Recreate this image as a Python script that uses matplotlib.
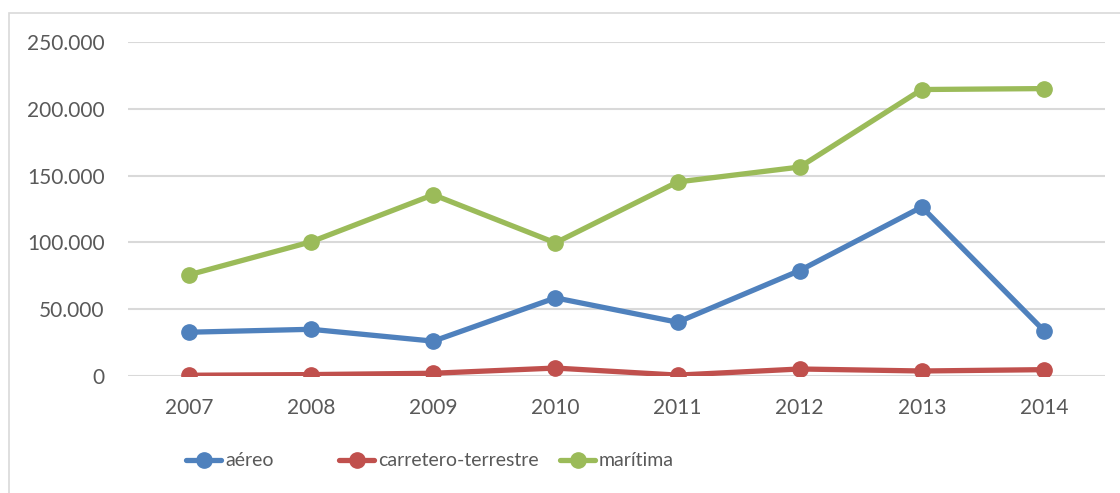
import matplotlib.pyplot as plt
from matplotlib.patches import Rectangle
from matplotlib.lines import Line2D
from matplotlib.ticker import FuncFormatter

# Years and values
years = ['2007', '2008', '2009', '2010', '2011', '2012', '2013', '2014']
aereo = [32500, 34700, 25800, 58300, 40000, 78800, 126500, 33700]
carretero = [200, 700, 1700, 5600, 300, 4900, 3400, 4400]
maritima = [75600, 100400, 135700, 99600, 145300, 156500, 214700, 215400]

series_names = ['aéreo', 'carretero-terrestre', 'marítima']
colors = ['#4F81BD', '#C0504D', '#9BBB59']

plt.rcParams['font.family'] = ['Lato', 'DejaVu Sans']
text_color = '#595959'

fig = plt.figure(figsize=(11.2, 4.93), dpi=100)
ax = fig.add_axes([0.1143, 0.2383, 0.8723, 0.6755])

x = list(range(len(years)))
for vals, c in zip([aereo, carretero, maritima], colors):
    ax.plot(x, vals, color=c, linewidth=3.8, marker='o', markersize=11,
            solid_capstyle='round', zorder=3)

ax.set_xlim(-0.5, len(years) - 0.5)
ax.set_ylim(0, 250000)
ax.set_yticks(range(0, 250001, 50000))
ax.yaxis.set_major_formatter(FuncFormatter(lambda v, p: f'{int(v):,}'.replace(',', '.')))
ax.set_xticks(x)
ax.set_xticklabels(years)

ax.grid(axis='y', color='#D9D9D9', linewidth=1.5, zorder=0)
for s in ax.spines.values():
    s.set_visible(False)
ax.tick_params(axis='both', length=0, labelsize=15, labelcolor=text_color)
ax.tick_params(axis='y', pad=17)
ax.tick_params(axis='x', pad=16)

# outer chart border (only left/top visible in the crop)
fig.patches.append(Rectangle((9 / 1120, -0.2), 1.5, 1.2 - 13 / 493,
                             transform=fig.transFigure, fill=False,
                             edgecolor='#D9D9D9', linewidth=1.2))

# legend entries placed like the original
leg_x = [186, 339, 560]
for name, c, lx in zip(series_names, colors, leg_x):
    h = Line2D([0], [0], color=c, linewidth=3.8, marker='o', markersize=11,
               solid_capstyle='round')
    leg = fig.legend([h], [name], loc='center left',
                     bbox_to_anchor=(lx / 1120, 1 - 461 / 493),
                     frameon=False, fontsize=14, handlelength=1.8,
                     handletextpad=0.2, borderaxespad=0, borderpad=0)
    for t in leg.get_texts():
        t.set_color(text_color)

fig.savefig('out.png', dpi=100)
